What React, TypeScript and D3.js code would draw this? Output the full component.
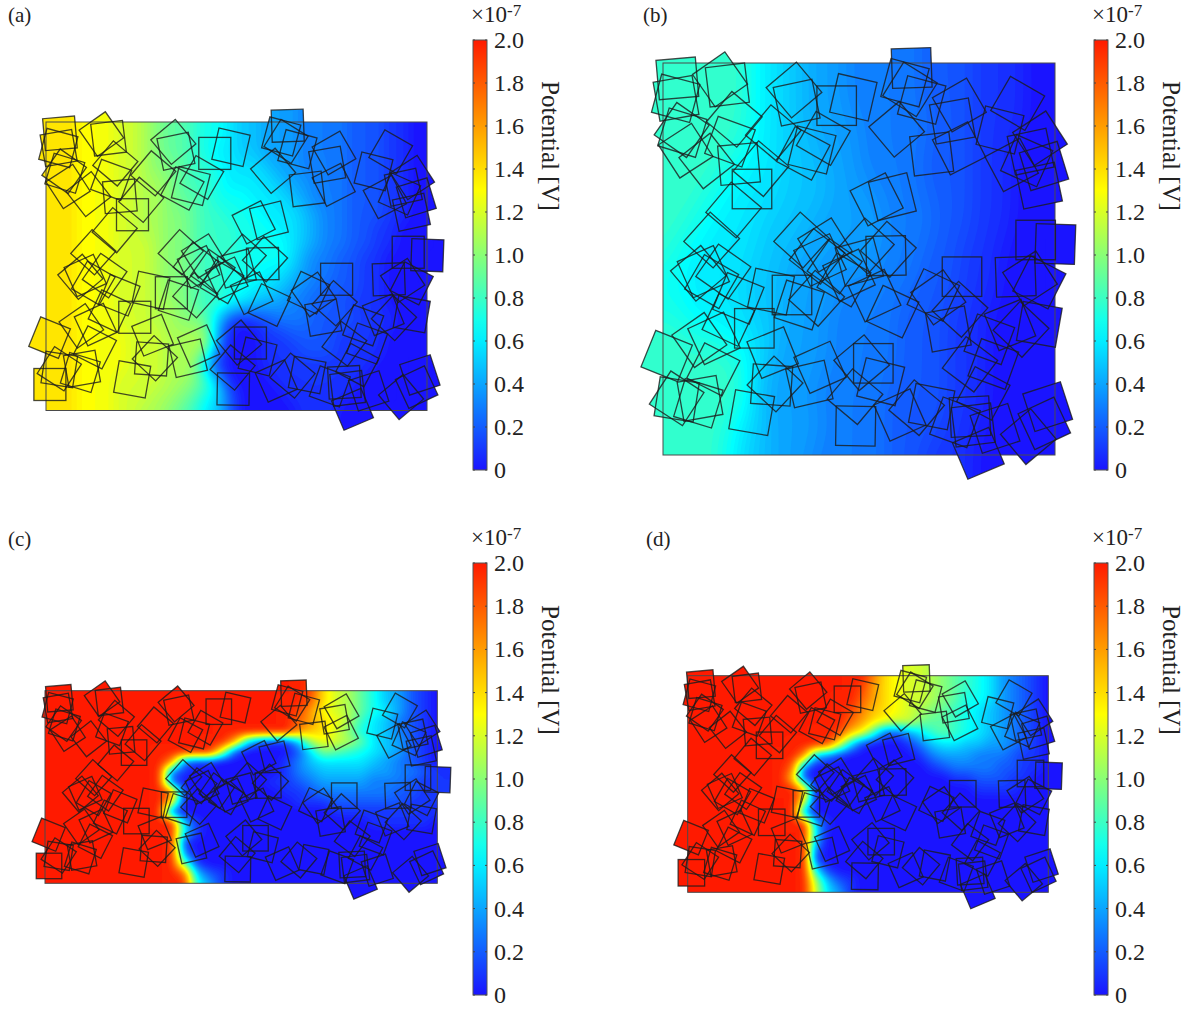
import React from 'react';
import * as d3 from 'd3';

// potential colour stops, in units of 1e-7 V
const colorDomain = [0, 0.65, 1.3, 2.0];
const colorRange = ['#1a14ff', '#00ffff', '#ffff00', '#ff1a00'];
const tickValues = [0, 0.2, 0.4, 0.6, 0.8, 1.0, 1.2, 1.4, 1.6, 1.8, 2.0];
const tickLabels = ['0', '0.2', '0.4', '0.6', '0.8', '1.0', '1.2', '1.4', '1.6', '1.8', '2.0'];

// squares: centre x, centre y, rotation in degrees (geometry units, 69..1245 on both axes)
const squares: [number, number, number][] = [
  [112, 115, -5], [108, 175, -10], [107, 175, 15], [125, 270, 35], [127, 278, 17], [137, 332, -33],
  [200, 363, -38], [240, 118, -35], [262, 135, -7], [270, 305, 20], [297, 372, -5], [336, 447, 0],
  [283, 238, 40], [363, 386, 40], [400, 278, 40], [281, 510, 40], [215, 600, 42], [462, 150, -40],
  [470, 188, -12], [590, 197, 0], [640, 172, 13], [516, 330, 14], [490, 340, 28], [550, 295, 30],
  [485, 600, 42], [555, 615, -32], [540, 660, -25], [531, 649, 38], [584, 679, 35], [627, 706, -25],
  [658, 666, -15], [679, 618, 42], [704, 767, -25], [612, 720, 30], [815, 84, -2], [795, 128, 15],
  [810, 148, 32], [845, 180, 15], [770, 268, -40], [875, 342, -7], [937, 243, -10], [958, 195, -30],
  [957, 325, -27], [1080, 270, 14], [1133, 190, 30], [1200, 295, -33], [1172, 335, -12], [1212, 378, -17],
  [1197, 437, -12], [1115, 375, -28], [1160, 362, 24], [1187, 600, 0], [1246, 612, 2], [757, 470, -14],
  [710, 478, -27], [745, 628, 42], [738, 647, -1], [758, 815, 25], [966, 710, 0], [1127, 710, -2],
  [1198, 727, 27], [1170, 715, -33], [1198, 853, 10], [1143, 868, 43], [1048, 898, 20], [990, 973, 37],
  [1060, 972, 20], [1030, 1060, 28], [925, 867, -10], [880, 765, 25], [895, 772, -35], [960, 808, 42],
  [1223, 1100, -18], [1213, 1150, -25], [1165, 1190, -40], [1065, 1165, -18], [990, 1130, -3], [1000, 1155, -7],
  [1015, 1240, -23], [945, 1147, 20], [875, 1100, 11], [830, 1103, 40], [780, 1125, -24], [647, 1158, 1],
  [700, 970, 0], [722, 1025, 14], [665, 968, -40], [645, 1070, 40], [80, 948, 22], [220, 988, 27],
  [178, 900, -35], [222, 895, -25], [265, 840, 25], [175, 700, -40], [190, 695, -24], [215, 725, 30],
  [250, 695, 35], [295, 775, 22], [343, 865, 0], [398, 938, -22], [393, 755, 12], [456, 765, 0],
  [478, 795, 18], [530, 775, 42], [395, 1035, 4], [405, 1032, 43], [540, 982, -24], [508, 1032, -13],
  [335, 1118, 10], [110, 1075, 33], [110, 1078, 9], [180, 1075, -10], [175, 1090, 17], [1110, 855, -22],
];
// this one is not in panel (b)
const extraSquares: [number, number, number][] = [[81, 1139, 0]];

// field rows: one char per sample, 0-9 then A-K = 0.0 .. 2.0 (x 1e-7 V)
const fieldA = [
  'EEEDDDCCBA9987765544433332221100',
  'EEEDDDCCBA9987765544433332221100',
  'EEEDDDCCBA9987665544433332221100',
  'EEEDDDCCBAA988766654433332221100',
  'EEEDDDCCBBA988766665443332221100',
  'EEEDDDCCBBA998777666543332221100',
  'EEEDDDCCBBAA98877766654332221100',
  'EEEDDDCCBBAA98887776654332211000',
  'EEEDDDCCCBAA98887777654332211000',
  'EEEDDDCCCBAA98887777643322110000',
  'EEEDDDCCCBAA98877766543322110000',
  'EEEDDDCCCBAA98877665433222110000',
  'EEEDDDCCCBBA98876544332221110000',
  'EEEDDDCCCBBAA9510123332222111000',
  'EEEDDDDCCCBBBB400011222211110000',
  'EEEDDDDCCCBBBB300011122211110000',
  'EEEDDDDCCCBBB4000011111111100000',
  'EEEDDDCCCCBBA9500001111111000000',
  'EEEDDDCCCBBA97620000111110000000',
  'EEEDDDCCBBA986520000011100000000',
];
const fieldB = [
  '88888887665544433333322221111000',
  '88888887665544433333322221111000',
  '88888887665544433333322221111000',
  '88888887665544443333332221111000',
  '88888877665554443333322221110000',
  '88888776665554443333322221110000',
  '88887766665555444333322221110000',
  '88877666655554444433332221110000',
  '88776666555544444433332221110000',
  '87766666555444444433322211100000',
  '77666665554444444333322211100000',
  '77666665554444333333222211100000',
  '77766665554444333332222111000000',
  '88777666554443333332222111000000',
  '88888876644444333332222111000000',
  '88888886544443333332222111000000',
  '88888886444433333322222111000000',
  '88888876544443333322222111000000',
  '88888765544443333322221110000000',
  '88888765544433333322211110000000',
];
const fieldC = [
  'KKKKKKKKKKKKKKKKKKKKKJECB9754210',
  'KKKKKKKKKKKKKKKKKKKKKIECB9754210',
  'KKKKKKKKKKKKKKKKKKKKJGDCB9764210',
  'KKKKKKKKKKKKKKKKKKKKIGEDB8653210',
  'KKKKKKKKKKKKKKKKKKKKHFECA7653210',
  'KKKKKKKKKKKKKKKG62115BDCB9654210',
  'KKKKKKKKKKKKKKC2000026A987654210',
  'KKKKKKKKKKH31100000135666654321',
  'KKKKKKKKKK3100000001345555443321',
  'KKKKKKKKKK2000000011234444333211',
  'KKKKKKKKKKI100000001123333332211',
  'KKKKKKKKKKE000000000111222222111',
  'KKKKKKKKKK2000000000000111111111',
  'KKKKKKKKKKK510000000000000111110',
  'KKKKKKKKKKK610000000000000000000',
  'KKKKKKKKKKK100000000000000000000',
  'KKKKKKKKKKK300000000000000000000',
  'KKKKKKKKKKK910000000000000000000',
  'KKKKKKKKKKKI52100000000000000000',
  'KKKKKKKKKKKK74100000000000000000',
];
const fieldD = [
  'KKKKKKKKKKKKKKKKHEDCCBA987643210',
  'KKKKKKKKKKKKKKKJGEDCCBA987643210',
  'KKKKKKKKKKKKKKKIGEDCCBA977643210',
  'KKKKKKKKKKKKKKJHFEDCBA9876543210',
  'KKKKKKKKKKKKKKIGEDCCA99876543210',
  'KKKKKKKKKKKKKJFD8224689876543210',
  'KKKKKKKKKKKKJD610001356655443210',
  'KKKKKKKKKKH531000000134443332110',
  'KKKKKKKKKI3000000000012333322110',
  'KKKKKKKKKF1000000000000112221100',
  'KKKKKKKKKKG000000000000001111000',
  'KKKKKKKKKKD000000000000000000000',
  'KKKKKKKKKK4000000000000000000000',
  'KKKKKKKKKKK510000000000000000000',
  'KKKKKKKKKKK600000000000000000000',
  'KKKKKKKKKKK300000000000000000000',
  'KKKKKKKKKKK100000000000000000000',
  'KKKKKKKKKKK610000000000000000000',
  'KKKKKKKKKKKB52100000000000000000',
  'KKKKKKKKKKKC64100000000000000000',
];

const panels = [
  { id: 'a', label: '(a)', labelX: 8, labelY: 22, x0: 46, x1: 427, y0: 122, y1: 410.5, side: 32, smooth: 1.5, field: fieldA, barX: 473, barTop: 40, barBottom: 470 },
  { id: 'b', label: '(b)', labelX: 643, labelY: 22, x0: 663, x1: 1055, y0: 63, y1: 455, side: 39.5, smooth: 3, field: fieldB, barX: 1094, barTop: 40, barBottom: 470 },
  { id: 'c', label: '(c)', labelX: 8, labelY: 546, x0: 45, x1: 437.3, y0: 690.7, y1: 883.3, side: 25.5, smooth: 0.8, field: fieldC, barX: 473, barTop: 563, barBottom: 995 },
  { id: 'd', label: '(d)', labelX: 646, labelY: 546, x0: 687.7, x1: 1048.3, y0: 675.7, y1: 892.3, side: 26.5, smooth: 0.8, field: fieldD, barX: 1094, barTop: 563, barBottom: 995 },
];

const CODES = '0123456789ABCDEFGHIJK';
const GRID_W = 32;
const GRID_H = 20;
const PAD = 6;
const FINE = 4;
const color = d3.scaleLinear<string>().domain(colorDomain).range(colorRange).clamp(true);
const thresholds = d3.range(0, 81).map(i => i * 0.025);
const serif = '"Liberation Serif", serif';

// edge-padded samples, resampled finer and softened so the bands come out smooth
function fineValues(rows: string[], smooth: number) {
  const w = GRID_W + PAD * 2;
  const h = GRID_H + PAD * 2;
  const at = (i: number, j: number) => {
    const row = rows[Math.min(GRID_H - 1, Math.max(0, j - PAD))].padEnd(GRID_W, '0');
    return CODES.indexOf(row[Math.min(GRID_W - 1, Math.max(0, i - PAD))]) / 10;
  };
  const fw = (w - 1) * FINE + 1;
  const fh = (h - 1) * FINE + 1;
  const data = new Float64Array(fw * fh);
  for (let j = 0; j < fh; j++) {
    const j0 = Math.floor(j / FINE);
    const tj = j / FINE - j0;
    for (let i = 0; i < fw; i++) {
      const i0 = Math.floor(i / FINE);
      const ti = i / FINE - i0;
      const top = d3.interpolateNumber(at(i0, j0), at(i0 + 1, j0))(ti);
      const bottom = d3.interpolateNumber(at(i0, j0 + 1), at(i0 + 1, j0 + 1))(ti);
      data[j * fw + i] = d3.interpolateNumber(top, bottom)(tj);
    }
  }
  d3.blur2({ data, width: fw, height: fh }, smooth);
  return { fw, fh, data };
}

function Panel({ p }: { p: (typeof panels)[number] }) {
  const sx = d3.scaleLinear().domain([69, 1245]).range([p.x0, p.x1]);
  const sy = d3.scaleLinear().domain([69, 1245]).range([p.y0, p.y1]);
  const gx = d3.scaleLinear().domain([PAD * FINE + 0.5, (PAD + GRID_W - 1) * FINE + 0.5]).range([p.x0, p.x1]);
  const gy = d3.scaleLinear().domain([PAD * FINE + 0.5, (PAD + GRID_H - 1) * FINE + 0.5]).range([p.y0, p.y1]);
  const { fw, fh, data } = fineValues(p.field, p.smooth);
  const bands = d3.contours().size([fw, fh]).thresholds(thresholds)(Array.from(data));
  const path = d3.geoPath(d3.geoTransform({
    point(x, y) { this.stream.point(gx(x), gy(y)); },
  }));
  const list = p.id === 'b' ? squares : [...squares, ...extraSquares];
  const bar = d3.scaleLinear().domain([0, 2]).range([p.barBottom, p.barTop]);
  const barW = 14;
  const square = (s: [number, number, number], i: number, extra: any) => (
    <rect key={i} x={-p.side / 2} y={-p.side / 2} width={p.side} height={p.side}
      transform={`translate(${sx(s[0])},${sy(s[1])}) rotate(${s[2]})`} {...extra} />
  );
  return (
    <g>
      <defs>
        <clipPath id={`clip-${p.id}`}>
          <rect x={p.x0} y={p.y0} width={p.x1 - p.x0} height={p.y1 - p.y0} />
          {list.map((s, i) => square(s, i, {}))}
        </clipPath>
        <linearGradient id={`grad-${p.id}`} x1="0" y1="1" x2="0" y2="0">
          {d3.range(0, 21).map(i => (
            <stop key={i} offset={i / 20} stopColor={color(i / 10)} />
          ))}
        </linearGradient>
      </defs>
      <g clipPath={`url(#clip-${p.id})`}>
        <rect x={0} y={0} width={1196} height={1010} fill={color(0)} />
        {bands.map((b, i) => (
          <path key={i} d={path(b as any) || ''} fill={color(b.value)} />
        ))}
      </g>
      <rect x={p.x0} y={p.y0} width={p.x1 - p.x0} height={p.y1 - p.y0} fill="none" stroke="#4a4a4a" strokeWidth={1} />
      {list.map((s, i) => square(s, i, { fill: 'none', stroke: '#1c1c1c', strokeOpacity: 0.8, strokeWidth: 1.3 }))}

      <text x={p.labelX} y={p.labelY} fontFamily={serif} fontSize={21} fill="#222">{p.label}</text>

      <rect x={p.barX} y={p.barTop} width={barW} height={p.barBottom - p.barTop} fill={`url(#grad-${p.id})`} stroke="#555" strokeWidth={1} />
      {tickValues.map((t, i) => (
        <g key={i}>
          <line x1={p.barX} x2={p.barX + 2} y1={bar(t)} y2={bar(t)} stroke="#444" />
          <line x1={p.barX + barW - 2} x2={p.barX + barW} y1={bar(t)} y2={bar(t)} stroke="#444" />
          <text x={p.barX + 21} y={bar(t) + 8} fontFamily={serif} fontSize={24} fill="#222">{tickLabels[i]}</text>
        </g>
      ))}
      <text x={p.barX - 2} y={p.barTop - 18} fontFamily={serif} fontSize={23} fill="#222">
        ×10<tspan dy={-6} fontSize={17}>-7</tspan>
      </text>
      <text transform={`translate(${p.barX + 69},${(p.barTop + p.barBottom) / 2 - 109}) rotate(90)`}
        fontFamily={serif} fontSize={25} fill="#222" textAnchor="middle">Potential [V]</text>
    </g>
  );
}

export default function App() {
  return (
    <svg width={1196} height={1010} style={{ position: 'absolute', left: 0, top: 0, background: '#fff' }}>
      {panels.map(p => <Panel key={p.id} p={p} />)}
    </svg>
  );
}
